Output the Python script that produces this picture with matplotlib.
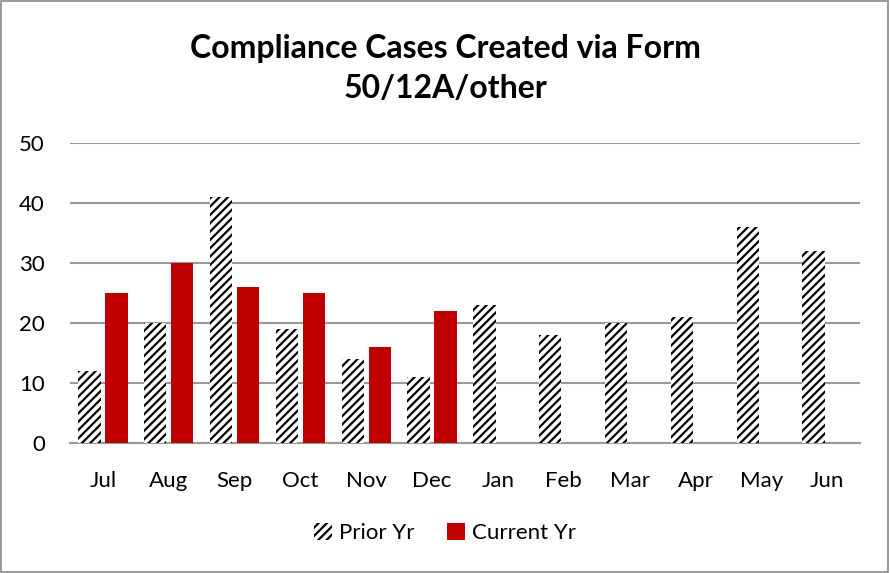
import numpy as np
import matplotlib.pyplot as plt
import matplotlib

matplotlib.rcParams['hatch.linewidth'] = 1.6
plt.rcParams['font.family'] = ['Lato', 'DejaVu Sans']

months = ["Jul", "Aug", "Sep", "Oct", "Nov", "Dec", "Jan", "Feb", "Mar", "Apr", "May", "Jun"]
prior_yr = [12, 20, 41, 19, 14, 11, 23, 18, 20, 21, 36, 32]
current_yr = [25, 30, 26, 25, 16, 22]

fig = plt.figure(figsize=(8.9, 5.73), dpi=100)
ax = fig.add_axes([70/890, 130/573, 790/890, 300/573])

x = np.arange(len(months))
bw = 0.34
ax.bar(x - 0.205, prior_yr, width=bw, color="white", edgecolor="black",
       hatch="////", linewidth=0, label="Prior Yr", zorder=3)
ax.bar(x[:len(current_yr)] + 0.205, current_yr, width=bw, color="#C00000",
       linewidth=0, label="Current Yr", zorder=3)

ax.set_xlim(-0.5, len(months) - 0.5)
ax.set_ylim(0, 50)
ax.set_yticks(range(0, 51, 10))
ax.set_xticks(x)
ax.set_xticklabels(months)
ax.yaxis.grid(True, color="#999999", linewidth=1.5, zorder=0)
ax.set_axisbelow(True)
for s in ["top", "right", "left"]:
    ax.spines[s].set_visible(False)
ax.spines["bottom"].set_color("#999999")
ax.spines["bottom"].set_linewidth(1.5)
ax.tick_params(axis="both", length=0, labelsize=16, colors="black")
ax.tick_params(axis="x", pad=20)
ax.tick_params(axis="y", pad=18)

fig.text(0.5, 0.880, "Compliance Cases Created via Form\n50/12A/other", ha="center", va="center",
         fontsize=23, fontweight="bold", linespacing=1.45)

fig.legend(loc="center", bbox_to_anchor=(0.5, 0.07), ncol=2, frameon=False, fontsize=16,
           handlelength=0.8, handleheight=0.8, handletextpad=0.3, columnspacing=1.5)

fig.add_artist(plt.Rectangle((0.001, 0.001), 0.997, 0.997, transform=fig.transFigure,
                             fill=False, edgecolor="#888888", linewidth=1.2))

fig.savefig("out.png", dpi=100)
